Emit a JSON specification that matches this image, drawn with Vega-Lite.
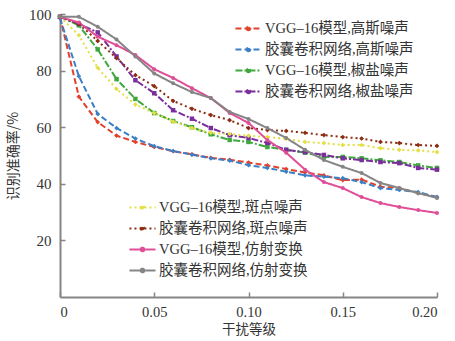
{
"$schema": "https://vega.github.io/schema/vega-lite/v6.json",
"width": 377, "height": 283,
"autosize": {"type": "none"},
"padding": {"left": 60, "top": 14, "right": 18, "bottom": 44},
"background": "white",
"datasets": {"pts": [
{"g":"A","s":"VGG–16模型,高斯噪声","d":0,"acc":99},{"g":"A","s":"VGG–16模型,高斯噪声","d":0.01,"acc":70.8},{"g":"A","s":"VGG–16模型,高斯噪声","d":0.02,"acc":61.8},{"g":"A","s":"VGG–16模型,高斯噪声","d":0.03,"acc":57},{"g":"A","s":"VGG–16模型,高斯噪声","d":0.04,"acc":54.8},{"g":"A","s":"VGG–16模型,高斯噪声","d":0.05,"acc":53},{"g":"A","s":"VGG–16模型,高斯噪声","d":0.06,"acc":51.5},{"g":"A","s":"VGG–16模型,高斯噪声","d":0.07,"acc":50.4},{"g":"A","s":"VGG–16模型,高斯噪声","d":0.08,"acc":49.2},{"g":"A","s":"VGG–16模型,高斯噪声","d":0.09,"acc":48.5},{"g":"A","s":"VGG–16模型,高斯噪声","d":0.1,"acc":47.5},{"g":"A","s":"VGG–16模型,高斯噪声","d":0.11,"acc":46.5},{"g":"A","s":"VGG–16模型,高斯噪声","d":0.12,"acc":45.2},{"g":"A","s":"VGG–16模型,高斯噪声","d":0.13,"acc":44},{"g":"A","s":"VGG–16模型,高斯噪声","d":0.14,"acc":43},{"g":"A","s":"VGG–16模型,高斯噪声","d":0.15,"acc":41.3},{"g":"A","s":"VGG–16模型,高斯噪声","d":0.16,"acc":41.5},{"g":"A","s":"VGG–16模型,高斯噪声","d":0.17,"acc":39},{"g":"A","s":"VGG–16模型,高斯噪声","d":0.18,"acc":38.5},{"g":"A","s":"VGG–16模型,高斯噪声","d":0.19,"acc":36.7},{"g":"A","s":"VGG–16模型,高斯噪声","d":0.2,"acc":35.3},
{"g":"A","s":"胶囊卷积网络,高斯噪声","d":0,"acc":98.5},{"g":"A","s":"胶囊卷积网络,高斯噪声","d":0.01,"acc":78},{"g":"A","s":"胶囊卷积网络,高斯噪声","d":0.02,"acc":64.7},{"g":"A","s":"胶囊卷积网络,高斯噪声","d":0.03,"acc":59.7},{"g":"A","s":"胶囊卷积网络,高斯噪声","d":0.04,"acc":56},{"g":"A","s":"胶囊卷积网络,高斯噪声","d":0.05,"acc":53.3},{"g":"A","s":"胶囊卷积网络,高斯噪声","d":0.06,"acc":51.6},{"g":"A","s":"胶囊卷积网络,高斯噪声","d":0.07,"acc":50.3},{"g":"A","s":"胶囊卷积网络,高斯噪声","d":0.08,"acc":49},{"g":"A","s":"胶囊卷积网络,高斯噪声","d":0.09,"acc":48.2},{"g":"A","s":"胶囊卷积网络,高斯噪声","d":0.1,"acc":46.6},{"g":"A","s":"胶囊卷积网络,高斯噪声","d":0.11,"acc":45.6},{"g":"A","s":"胶囊卷积网络,高斯噪声","d":0.12,"acc":44.3},{"g":"A","s":"胶囊卷积网络,高斯噪声","d":0.13,"acc":43},{"g":"A","s":"胶囊卷积网络,高斯噪声","d":0.14,"acc":42.5},{"g":"A","s":"胶囊卷积网络,高斯噪声","d":0.15,"acc":42},{"g":"A","s":"胶囊卷积网络,高斯噪声","d":0.16,"acc":40.6},{"g":"A","s":"胶囊卷积网络,高斯噪声","d":0.17,"acc":38.5},{"g":"A","s":"胶囊卷积网络,高斯噪声","d":0.18,"acc":37.8},{"g":"A","s":"胶囊卷积网络,高斯噪声","d":0.19,"acc":37.1},{"g":"A","s":"胶囊卷积网络,高斯噪声","d":0.2,"acc":35.3},
{"g":"A","s":"VGG–16模型,椒盐噪声","d":0,"acc":99},{"g":"A","s":"VGG–16模型,椒盐噪声","d":0.01,"acc":96},{"g":"A","s":"VGG–16模型,椒盐噪声","d":0.02,"acc":87.5},{"g":"A","s":"VGG–16模型,椒盐噪声","d":0.03,"acc":77},{"g":"A","s":"VGG–16模型,椒盐噪声","d":0.04,"acc":70},{"g":"A","s":"VGG–16模型,椒盐噪声","d":0.05,"acc":65},{"g":"A","s":"VGG–16模型,椒盐噪声","d":0.06,"acc":62.2},{"g":"A","s":"VGG–16模型,椒盐噪声","d":0.07,"acc":60},{"g":"A","s":"VGG–16模型,椒盐噪声","d":0.08,"acc":57.5},{"g":"A","s":"VGG–16模型,椒盐噪声","d":0.09,"acc":55.5},{"g":"A","s":"VGG–16模型,椒盐噪声","d":0.1,"acc":54.8},{"g":"A","s":"VGG–16模型,椒盐噪声","d":0.11,"acc":53},{"g":"A","s":"VGG–16模型,椒盐噪声","d":0.12,"acc":52},{"g":"A","s":"VGG–16模型,椒盐噪声","d":0.13,"acc":51},{"g":"A","s":"VGG–16模型,椒盐噪声","d":0.14,"acc":49.5},{"g":"A","s":"VGG–16模型,椒盐噪声","d":0.15,"acc":49.5},{"g":"A","s":"VGG–16模型,椒盐噪声","d":0.16,"acc":49},{"g":"A","s":"VGG–16模型,椒盐噪声","d":0.17,"acc":48.3},{"g":"A","s":"VGG–16模型,椒盐噪声","d":0.18,"acc":47.7},{"g":"A","s":"VGG–16模型,椒盐噪声","d":0.19,"acc":46.5},{"g":"A","s":"VGG–16模型,椒盐噪声","d":0.2,"acc":45.6},
{"g":"A","s":"胶囊卷积网络,椒盐噪声","d":0,"acc":99},{"g":"A","s":"胶囊卷积网络,椒盐噪声","d":0.01,"acc":96.5},{"g":"A","s":"胶囊卷积网络,椒盐噪声","d":0.02,"acc":93.5},{"g":"A","s":"胶囊卷积网络,椒盐噪声","d":0.03,"acc":85},{"g":"A","s":"胶囊卷积网络,椒盐噪声","d":0.04,"acc":76.6},{"g":"A","s":"胶囊卷积网络,椒盐噪声","d":0.05,"acc":72},{"g":"A","s":"胶囊卷积网络,椒盐噪声","d":0.06,"acc":66},{"g":"A","s":"胶囊卷积网络,椒盐噪声","d":0.07,"acc":63},{"g":"A","s":"胶囊卷积网络,椒盐噪声","d":0.08,"acc":59.7},{"g":"A","s":"胶囊卷积网络,椒盐噪声","d":0.09,"acc":57.2},{"g":"A","s":"胶囊卷积网络,椒盐噪声","d":0.1,"acc":56.2},{"g":"A","s":"胶囊卷积网络,椒盐噪声","d":0.11,"acc":54.4},{"g":"A","s":"胶囊卷积网络,椒盐噪声","d":0.12,"acc":52},{"g":"A","s":"胶囊卷积网络,椒盐噪声","d":0.13,"acc":51.2},{"g":"A","s":"胶囊卷积网络,椒盐噪声","d":0.14,"acc":50.2},{"g":"A","s":"胶囊卷积网络,椒盐噪声","d":0.15,"acc":49},{"g":"A","s":"胶囊卷积网络,椒盐噪声","d":0.16,"acc":48.4},{"g":"A","s":"胶囊卷积网络,椒盐噪声","d":0.17,"acc":47.7},{"g":"A","s":"胶囊卷积网络,椒盐噪声","d":0.18,"acc":47.3},{"g":"A","s":"胶囊卷积网络,椒盐噪声","d":0.19,"acc":45.6},{"g":"A","s":"胶囊卷积网络,椒盐噪声","d":0.2,"acc":45},
{"g":"B","s":"VGG–16模型,斑点噪声","d":0,"acc":99},{"g":"B","s":"VGG–16模型,斑点噪声","d":0.01,"acc":92.5},{"g":"B","s":"VGG–16模型,斑点噪声","d":0.02,"acc":81},{"g":"B","s":"VGG–16模型,斑点噪声","d":0.03,"acc":73.5},{"g":"B","s":"VGG–16模型,斑点噪声","d":0.04,"acc":68},{"g":"B","s":"VGG–16模型,斑点噪声","d":0.05,"acc":65},{"g":"B","s":"VGG–16模型,斑点噪声","d":0.06,"acc":62},{"g":"B","s":"VGG–16模型,斑点噪声","d":0.07,"acc":59.7},{"g":"B","s":"VGG–16模型,斑点噪声","d":0.08,"acc":58},{"g":"B","s":"VGG–16模型,斑点噪声","d":0.09,"acc":57.6},{"g":"B","s":"VGG–16模型,斑点噪声","d":0.1,"acc":57},{"g":"B","s":"VGG–16模型,斑点噪声","d":0.11,"acc":56.5},{"g":"B","s":"VGG–16模型,斑点噪声","d":0.12,"acc":55.9},{"g":"B","s":"VGG–16模型,斑点噪声","d":0.13,"acc":54.8},{"g":"B","s":"VGG–16模型,斑点噪声","d":0.14,"acc":54.4},{"g":"B","s":"VGG–16模型,斑点噪声","d":0.15,"acc":53.7},{"g":"B","s":"VGG–16模型,斑点噪声","d":0.16,"acc":53.7},{"g":"B","s":"VGG–16模型,斑点噪声","d":0.17,"acc":52.6},{"g":"B","s":"VGG–16模型,斑点噪声","d":0.18,"acc":52},{"g":"B","s":"VGG–16模型,斑点噪声","d":0.19,"acc":51.8},{"g":"B","s":"VGG–16模型,斑点噪声","d":0.2,"acc":51.2},
{"g":"B","s":"胶囊卷积网络,斑点噪声","d":0,"acc":99},{"g":"B","s":"胶囊卷积网络,斑点噪声","d":0.01,"acc":96.5},{"g":"B","s":"胶囊卷积网络,斑点噪声","d":0.02,"acc":90.5},{"g":"B","s":"胶囊卷积网络,斑点噪声","d":0.03,"acc":84.4},{"g":"B","s":"胶囊卷积网络,斑点噪声","d":0.04,"acc":78.4},{"g":"B","s":"胶囊卷积网络,斑点噪声","d":0.05,"acc":74.5},{"g":"B","s":"胶囊卷积网络,斑点噪声","d":0.06,"acc":69.3},{"g":"B","s":"胶囊卷积网络,斑点噪声","d":0.07,"acc":66.5},{"g":"B","s":"胶囊卷积网络,斑点噪声","d":0.08,"acc":64.3},{"g":"B","s":"胶囊卷积网络,斑点噪声","d":0.09,"acc":62.5},{"g":"B","s":"胶囊卷积网络,斑点噪声","d":0.1,"acc":59.7},{"g":"B","s":"胶囊卷积网络,斑点噪声","d":0.11,"acc":59},{"g":"B","s":"胶囊卷积网络,斑点噪声","d":0.12,"acc":58.7},{"g":"B","s":"胶囊卷积网络,斑点噪声","d":0.13,"acc":58},{"g":"B","s":"胶囊卷积网络,斑点噪声","d":0.14,"acc":57.2},{"g":"B","s":"胶囊卷积网络,斑点噪声","d":0.15,"acc":56.5},{"g":"B","s":"胶囊卷积网络,斑点噪声","d":0.16,"acc":56},{"g":"B","s":"胶囊卷积网络,斑点噪声","d":0.17,"acc":54.8},{"g":"B","s":"胶囊卷积网络,斑点噪声","d":0.18,"acc":54.4},{"g":"B","s":"胶囊卷积网络,斑点噪声","d":0.19,"acc":53.7},{"g":"B","s":"胶囊卷积网络,斑点噪声","d":0.2,"acc":53.4},
{"g":"B","s":"VGG–16模型,仿射变换","d":0,"acc":99},{"g":"B","s":"VGG–16模型,仿射变换","d":0.01,"acc":97},{"g":"B","s":"VGG–16模型,仿射变换","d":0.02,"acc":92},{"g":"B","s":"VGG–16模型,仿射变换","d":0.03,"acc":89},{"g":"B","s":"VGG–16模型,仿射变换","d":0.04,"acc":85.5},{"g":"B","s":"VGG–16模型,仿射变换","d":0.05,"acc":80.5},{"g":"B","s":"VGG–16模型,仿射变换","d":0.06,"acc":77.4},{"g":"B","s":"VGG–16模型,仿射变换","d":0.07,"acc":73.8},{"g":"B","s":"VGG–16模型,仿射变换","d":0.08,"acc":70.3},{"g":"B","s":"VGG–16模型,仿射变换","d":0.09,"acc":65},{"g":"B","s":"VGG–16模型,仿射变换","d":0.1,"acc":61.5},{"g":"B","s":"VGG–16模型,仿射变换","d":0.11,"acc":55.5},{"g":"B","s":"VGG–16模型,仿射变换","d":0.12,"acc":51},{"g":"B","s":"VGG–16模型,仿射变换","d":0.13,"acc":45},{"g":"B","s":"VGG–16模型,仿射变换","d":0.14,"acc":40.6},{"g":"B","s":"VGG–16模型,仿射变换","d":0.15,"acc":38.5},{"g":"B","s":"VGG–16模型,仿射变换","d":0.16,"acc":35.3},{"g":"B","s":"VGG–16模型,仿射变换","d":0.17,"acc":33.2},{"g":"B","s":"VGG–16模型,仿射变换","d":0.18,"acc":31.8},{"g":"B","s":"VGG–16模型,仿射变换","d":0.19,"acc":30.7},{"g":"B","s":"VGG–16模型,仿射变换","d":0.2,"acc":29.7},
{"g":"B","s":"胶囊卷积网络,仿射变换","d":0,"acc":99},{"g":"B","s":"胶囊卷积网络,仿射变换","d":0.01,"acc":99},{"g":"B","s":"胶囊卷积网络,仿射变换","d":0.02,"acc":95.5},{"g":"B","s":"胶囊卷积网络,仿射变换","d":0.03,"acc":91},{"g":"B","s":"胶囊卷积网络,仿射变换","d":0.04,"acc":85},{"g":"B","s":"胶囊卷积网络,仿射变换","d":0.05,"acc":79},{"g":"B","s":"胶囊卷积网络,仿射变换","d":0.06,"acc":75.5},{"g":"B","s":"胶囊卷积网络,仿射变换","d":0.07,"acc":72.4},{"g":"B","s":"胶囊卷积网络,仿射变换","d":0.08,"acc":70.3},{"g":"B","s":"胶囊卷积网络,仿射变换","d":0.09,"acc":65.4},{"g":"B","s":"胶囊卷积网络,仿射变换","d":0.1,"acc":62.9},{"g":"B","s":"胶囊卷积网络,仿射变换","d":0.11,"acc":59.7},{"g":"B","s":"胶囊卷积网络,仿射变换","d":0.12,"acc":56.2},{"g":"B","s":"胶囊卷积网络,仿射变换","d":0.13,"acc":52},{"g":"B","s":"胶囊卷积网络,仿射变换","d":0.14,"acc":48.4},{"g":"B","s":"胶囊卷积网络,仿射变换","d":0.15,"acc":46},{"g":"B","s":"胶囊卷积网络,仿射变换","d":0.16,"acc":43.8},{"g":"B","s":"胶囊卷积网络,仿射变换","d":0.17,"acc":40.3},{"g":"B","s":"胶囊卷积网络,仿射变换","d":0.18,"acc":38.5},{"g":"B","s":"胶囊卷积网络,仿射变换","d":0.19,"acc":36.7},{"g":"B","s":"胶囊卷积网络,仿射变换","d":0.2,"acc":35}
]},
"data": {"name": "pts"},
"encoding": {
  "x": {"field": "d", "type": "quantitative", "scale": {"domain": [0, 0.2], "nice": false},
        "axis": {"title": "干扰等级", "values": [0, 0.05, 0.1, 0.15, 0.2], "labelExpr": "datum.value == 0 ? '0' : format(datum.value, '.2f')", "labelPadding": 13, "labelFontSize": 14.5, "titlePadding": 4, "titleFontSize": 13.5}},
  "y": {"field": "acc", "type": "quantitative", "scale": {"domain": [0, 100], "nice": false},
        "axis": {"title": "识别准确率/%", "values": [20, 40, 60, 80, 100], "labelPadding": 14, "titlePadding": 8}},
  "color": {"field": "s", "type": "nominal", "sort": null}
},
"layer": [
  {"transform": [{"filter": "datum.g == 'A'"}],
   "layer": [
     {"mark": {"type": "line", "strokeWidth": 2},
      "encoding": {
        "color": {"field": "s", "type": "nominal", "sort": null,
          "scale": {"domain": ["VGG–16模型,高斯噪声","胶囊卷积网络,高斯噪声","VGG–16模型,椒盐噪声","胶囊卷积网络,椒盐噪声"], "range": ["#e2412b","#3b7fc6","#3fa83c","#7a2e9c"]},
          "legend": {"title": null, "orient": "none", "legendX": 174, "legendY": 0}},
        "strokeDash": {"field": "s", "type": "nominal", "sort": null,
          "scale": {"domain": ["VGG–16模型,高斯噪声","胶囊卷积网络,高斯噪声","VGG–16模型,椒盐噪声","胶囊卷积网络,椒盐噪声"], "range": [[6,3],[6,3],[7,2,2,2],[7,2,2,2]]},
          "legend": {"title": null, "orient": "none", "legendX": 174, "legendY": 0}}
      }},
     {"transform": [{"filter": {"field": "s", "oneOf": ["VGG–16模型,高斯噪声","胶囊卷积网络,高斯噪声"]}}],
      "mark": {"type": "point", "filled": true, "size": 22, "opacity": 1, "shape": "diamond"}},
     {"transform": [{"filter": {"field": "s", "oneOf": ["VGG–16模型,椒盐噪声","胶囊卷积网络,椒盐噪声"]}}],
      "mark": {"type": "point", "filled": true, "size": 20, "opacity": 1, "shape": "square"}}
   ]},
  {"transform": [{"filter": "datum.g == 'B'"}],
   "layer": [
     {"mark": {"type": "line", "strokeWidth": 2},
      "encoding": {
        "color": {"field": "s", "type": "nominal", "sort": null,
          "scale": {"domain": ["VGG–16模型,斑点噪声","胶囊卷积网络,斑点噪声","VGG–16模型,仿射变换","胶囊卷积网络,仿射变换"], "range": ["#e3df45","#8c2c12","#df4f98","#858585"]},
          "legend": {"title": null, "orient": "none", "legendX": 68, "legendY": 179}},
        "strokeDash": {"field": "s", "type": "nominal", "sort": null,
          "scale": {"domain": ["VGG–16模型,斑点噪声","胶囊卷积网络,斑点噪声","VGG–16模型,仿射变换","胶囊卷积网络,仿射变换"], "range": [[2,3],[2,3],[1,0],[1,0]]},
          "legend": {"title": null, "orient": "none", "legendX": 68, "legendY": 179}}
      }},
     {"transform": [{"filter": {"field": "s", "oneOf": ["VGG–16模型,斑点噪声","胶囊卷积网络,斑点噪声"]}}],
      "mark": {"type": "point", "filled": true, "size": 22, "opacity": 1, "shape": "diamond"}},
     {"transform": [{"filter": {"field": "s", "oneOf": ["VGG–16模型,仿射变换","胶囊卷积网络,仿射变换"]}}],
      "mark": {"type": "point", "filled": true, "size": 16, "opacity": 1, "shape": "circle"}}
   ]}
],
"resolve": {"scale": {"color": "independent", "strokeDash": "independent"}},
"config": {
  "view": {"stroke": null},
  "axis": {"grid": false, "domainColor": "#858585", "domainWidth": 2, "tickColor": "#858585", "tickWidth": 1.5, "tickSize": -5,
           "labelFont": "Liberation Serif", "labelFontSize": 15, "labelColor": "#333333",
           "titleFont": "Noto Sans CJK SC", "titleFontSize": 14, "titleFontWeight": "normal", "titleColor": "#333333"},
  "legend": {"symbolType": "M-1,0H1M-0.14,0A0.14,0.14 0 1,0 0.14,0A0.14,0.14 0 1,0 -0.14,0", "symbolSize": 680, "symbolStrokeWidth": 2,
             "labelFont": "Liberation Serif, Noto Sans CJK SC", "labelFontSize": 14.5, "labelColor": "#333333", "labelLimit": 300,
             "rowPadding": -5, "labelOffset": 2}
}
}
